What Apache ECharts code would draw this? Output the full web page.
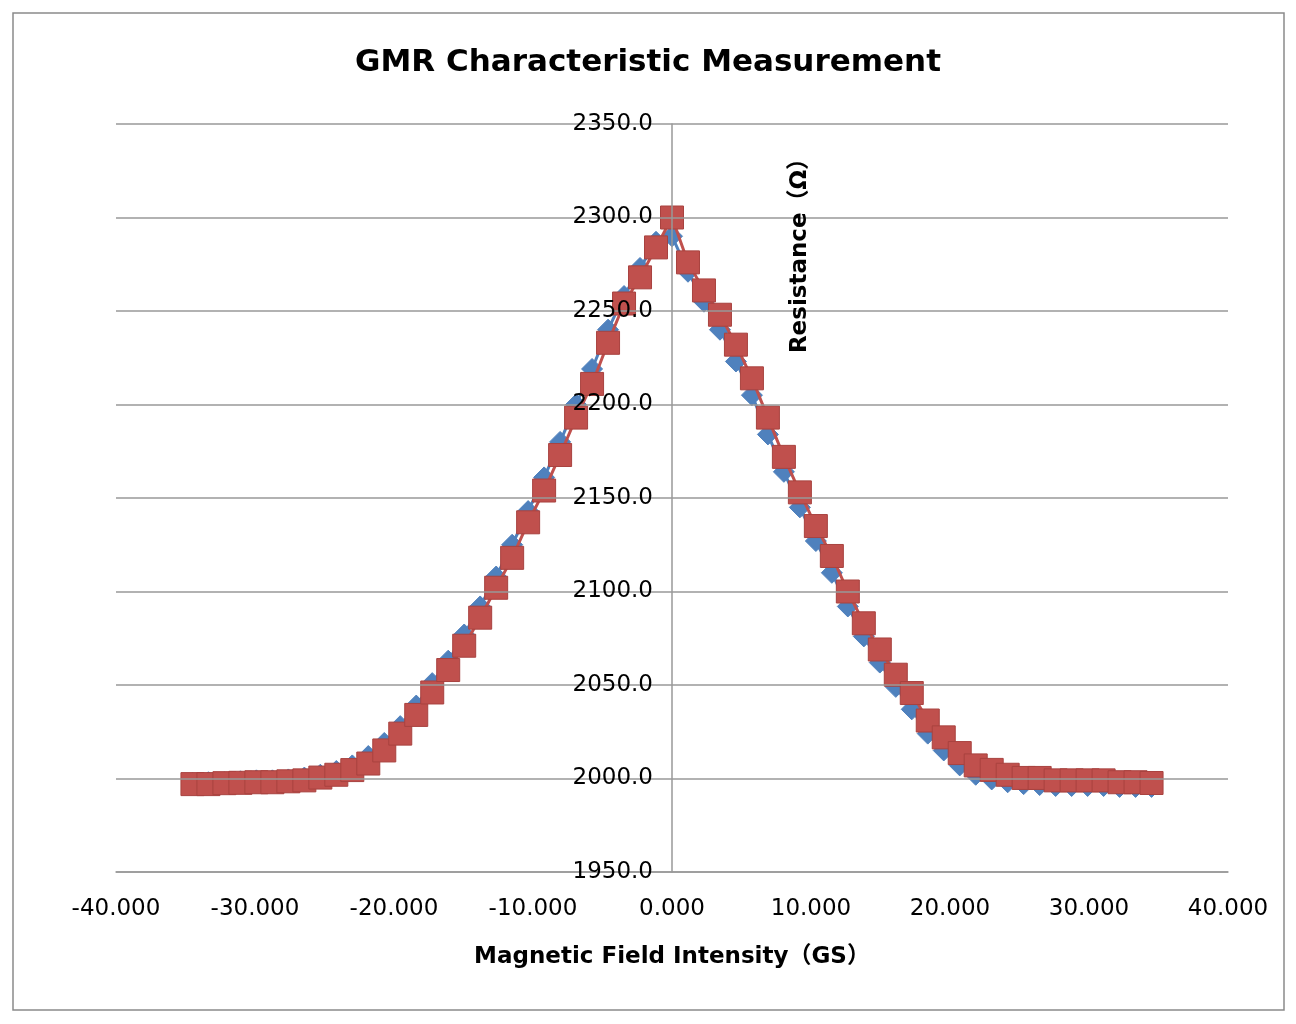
<!DOCTYPE html>
<html>
<head>
<meta charset="utf-8">
<script src="https://cdn.jsdelivr.net/npm/echarts@6/dist/echarts.min.js"></script>
<style>
  html, body { margin: 0; padding: 0; background: #fff; }
  #chart { width: 1296px; height: 1024px; }
</style>
</head>
<body>
<div id="chart"></div>
<script>
// magnetic field (GS), shared by both sweeps
const fieldValues = [
  -34.5, -33.35, -32.2, -31.05, -29.9, -28.75, -27.6, -26.45, -25.3, -24.15,
  -23, -21.85, -20.7, -19.55, -18.4, -17.25, -16.1, -14.95, -13.8, -12.65,
  -11.5, -10.35, -9.2, -8.05, -6.9, -5.75, -4.6, -3.45, -2.3, -1.15,
  0,
  1.15, 2.3, 3.45, 4.6, 5.75, 6.9, 8.05, 9.2, 10.35, 11.5,
  12.65, 13.8, 14.95, 16.1, 17.25, 18.4, 19.55, 20.7, 21.85, 23,
  24.15, 25.3, 26.45, 27.6, 28.75, 29.9, 31.05, 32.2, 33.35, 34.5
];

// blue sweep resistance (Ω)
const blueValues = [
  1997.5, 1998, 1998, 1998.5, 1999, 1999, 1999.5, 2000.5, 2002, 2004,
  2007, 2012, 2019, 2028, 2039, 2051, 2063, 2077, 2092, 2108,
  2125, 2143, 2161, 2180, 2200, 2219, 2240, 2258, 2273, 2287,
  2290,
  2271, 2255, 2240, 2223, 2205, 2184, 2164, 2145, 2127, 2110,
  2092, 2076, 2062, 2049, 2037, 2024, 2015, 2007, 2002, 1999.5,
  1998, 1997, 1996.5, 1996, 1996, 1996, 1996, 1995.5, 1995.5, 1995.5
];

// red sweep resistance (Ω)
const redValues = [
  1997, 1997, 1997.5, 1997.7, 1998, 1998, 1998.5, 1999, 2000.5, 2002,
  2004.5, 2008, 2015, 2024, 2034, 2046, 2058, 2071, 2086, 2102,
  2118, 2137, 2154, 2173, 2193, 2211, 2233, 2254, 2268, 2284,
  2300,
  2276, 2261, 2248, 2232, 2214, 2193, 2172, 2153, 2135, 2119,
  2100, 2083, 2069, 2055.5, 2045.7, 2031, 2022, 2013.6, 2007, 2004.6,
  2002, 2000.3, 2000.3, 1999, 1999, 1999, 1999, 1998, 1998, 1997.6
];

const chart = echarts.init(document.getElementById('chart'));

const labelFont = 'DejaVu Sans, Liberation Sans, sans-serif';
const nameFont = 'DejaVu Sans, Noto Sans CJK SC, sans-serif';

const gridLeft = 116;
const gridRight = 68;
const xMin = -40;
const xMax = 40;
// y axis sits on x = 0, so shift it from the grid's left edge
const plotWidth = 1296 - gridLeft - gridRight;
const yAxisShift = plotWidth * (0 - xMin) / (xMax - xMin);

const option = {
  backgroundColor: '#fff',
  animation: false,
  title: {
    text: 'GMR Characteristic Measurement',
    left: 'center',
    top: 42,
    textStyle: {
      fontFamily: labelFont,
      fontSize: 31,
      fontWeight: 'bold',
      color: '#000'
    }
  },
  grid: {
    left: gridLeft,
    right: gridRight,
    top: 124,
    bottom: 152
  },
  xAxis: {
    type: 'value',
    min: xMin,
    max: xMax,
    interval: 10,
    name: 'Magnetic Field Intensity（GS）',
    nameLocation: 'middle',
    nameGap: 74,
    nameTextStyle: {
      fontFamily: nameFont,
      fontSize: 23,
      fontWeight: 'bold',
      color: '#000'
    },
    axisLine: { show: true, lineStyle: { color: '#999', width: 1.5 } },
    axisTick: { show: false },
    splitLine: { show: false },
    axisLabel: {
      margin: 26,
      color: '#000',
      fontFamily: labelFont,
      fontSize: 23,
      formatter: v => v.toFixed(3)
    }
  },
  yAxis: {
    type: 'value',
    min: 1950,
    max: 2350,
    interval: 50,
    position: 'left',
    offset: -yAxisShift,
    z: 10,
    axisLine: { show: true, onZero: false, lineStyle: { color: '#999', width: 1.5 } },
    axisTick: { show: false },
    splitLine: { show: true, lineStyle: { color: '#999', width: 1.5 } },
    axisLabel: {
      margin: 19,
      color: '#000',
      fontFamily: labelFont,
      fontSize: 23,
      formatter: v => v.toFixed(1)
    }
  },
  graphic: [
    {
      type: 'rect',
      shape: { x: 13, y: 13, width: 1271, height: 997 },
      style: { fill: 'none', stroke: '#8a8a8a', lineWidth: 1.5 },
      silent: true
    },
    {
      type: 'text',
      x: 800,
      y: 250,
      rotation: Math.PI / 2,
      style: {
        text: 'Resistance（Ω）',
        fontFamily: nameFont,
        fontSize: 23,
        fontWeight: 'bold',
        fill: '#000',
        align: 'center',
        verticalAlign: 'middle'
      },
      z: 100
    }
  ],
  series: [
    {
      name: 'blue',
      type: 'line',
      data: fieldValues.map((x, i) => [x, blueValues[i]]),
      symbol: 'diamond',
      symbolSize: 21,
      showSymbol: true,
      lineStyle: { color: '#4F81BD', width: 3 },
      itemStyle: { color: '#4F81BD', borderColor: '#4F81BD', borderWidth: 1 },
      z: 2
    },
    {
      name: 'red',
      type: 'line',
      data: fieldValues.map((x, i) => [x, redValues[i]]),
      symbol: 'rect',
      symbolSize: 23,
      showSymbol: true,
      lineStyle: { color: '#C0504D', width: 3 },
      itemStyle: { color: '#C0504D', borderColor: '#A8423F', borderWidth: 1 },
      z: 3
    }
  ]
};

chart.setOption(option);
</script>
</body>
</html>
